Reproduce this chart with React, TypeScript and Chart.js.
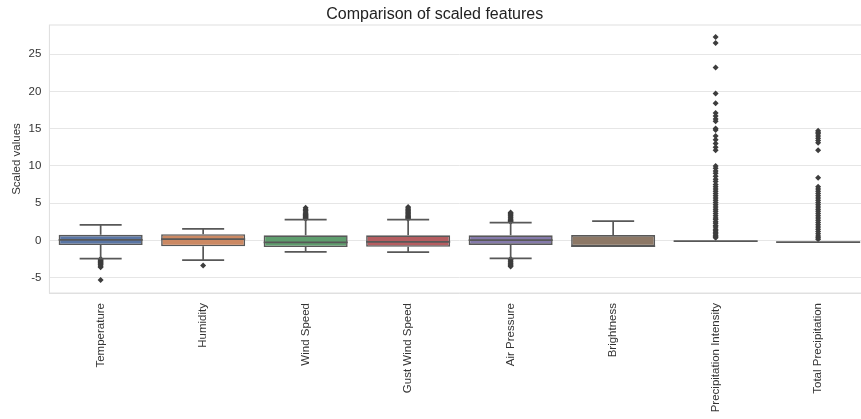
import React, { useEffect, useRef } from "react";
import { Chart, registerables } from "chart.js";

Chart.register(...registerables);

const categories = [
  "Temperature",
  "Humidity",
  "Wind Speed",
  "Gust Wind Speed",
  "Air Pressure",
  "Brightness",
  "Precipitation Intensity",
  "Total Precipitation",
];

const q1 = [-0.62, -0.78, -0.88, -0.85, -0.6, -0.8, -0.08, -0.22];
const medians = [0.07, 0.18, -0.25, -0.18, 0.05, -0.78, -0.08, -0.22];
const q3 = [0.75, 0.83, 0.68, 0.68, 0.68, 0.72, -0.08, -0.22];
const whiskerLow = [-2.45, -2.63, -1.53, -1.56, -2.4, -0.8, -0.08, -0.22];
const whiskerHigh = [2.1, 1.55, 2.8, 2.8, 2.38, 2.6, -0.08, -0.22];

const boxColors = ["#5975a4", "#cc8963", "#5f9e6e", "#b55d60", "#857aab", "#8d7866", "#5975a4", "#cc8963"];

const outliersTemperature = [-2.5, -2.6, -2.7, -2.8, -2.9, -3.0, -3.1, -3.2, -3.3, -3.45, -3.6, -5.3];
const outliersHumidity = [-3.35];
const outliersWindSpeed = [2.9, 3.0, 3.1, 3.2, 3.3, 3.4, 3.5, 3.65, 3.8, 4.0, 4.2, 4.4];
const outliersGustWindSpeed = [2.9, 3.0, 3.1, 3.2, 3.3, 3.45, 3.6, 3.75, 3.9, 4.05, 4.2, 4.35, 4.5];
const outliersAirPressure = [2.5, 2.6, 2.7, 2.85, 3.0, 3.15, 3.3, 3.45, 3.6, 3.75, -2.5, -2.6, -2.75, -2.9, -3.05, -3.2, -3.35, -3.5];
const outliersBrightness: number[] = [];
const outliersPrecipIntensity = [
  27.3, 26.5, 23.2, 19.7, 18.4, 17.1, 16.7, 16.3, 16.0, 15.0, 14.8, 14.0, 13.5, 13.0, 12.5, 12.1,
  10.0, 9.7, 9.3, 9.0, 8.6, 8.2, 7.9, 7.5, 7.2, 6.9, 6.6, 6.3, 6.0, 5.7, 5.4, 5.1, 4.8, 4.5, 4.2,
  3.9, 3.6, 3.3, 3.0, 2.8, 2.5, 2.3, 2.0, 1.8, 1.5, 1.3, 1.1, 0.9, 0.7, 0.5, 0.35,
];
const outliersTotalPrecip = [
  14.7, 14.5, 14.3, 14.0, 13.7, 13.4, 13.1, 12.1, 8.4, 7.2, 6.9, 6.6, 6.3, 6.0, 5.7, 5.4, 5.1,
  4.8, 4.5, 4.2, 3.9, 3.6, 3.3, 3.0, 2.7, 2.4, 2.1, 1.8, 1.5, 1.2, 0.9, 0.6, 0.35, 0.15,
];

const outlierLists = [
  outliersTemperature,
  outliersHumidity,
  outliersWindSpeed,
  outliersGustWindSpeed,
  outliersAirPressure,
  outliersBrightness,
  outliersPrecipIntensity,
  outliersTotalPrecip,
];

const yTicks = [-5, 0, 5, 10, 15, 20, 25];

const LINE = "#585858";
const FONT = "'Liberation Sans', Arial, sans-serif";

const boxPlugin = {
  id: "boxWhiskers",
  afterDatasetDraw(chart: any, args: any) {
    if (args.index !== 0) return;
    const ctx = chart.ctx;
    const xs = chart.scales.x;
    const ys = chart.scales.y;
    const meta = chart.getDatasetMeta(0);
    ctx.save();
    ctx.strokeStyle = LINE;
    ctx.lineWidth = 1.7;
    categories.forEach((_, i) => {
      const el = meta.data[i];
      const w = el ? el.width : 80;
      const cx = xs.getPixelForValue(i);
      const yq1 = ys.getPixelForValue(q1[i]);
      const yq3 = ys.getPixelForValue(q3[i]);
      const ylo = ys.getPixelForValue(whiskerLow[i]);
      const yhi = ys.getPixelForValue(whiskerHigh[i]);
      const ym = ys.getPixelForValue(medians[i]);
      ctx.beginPath();
      if (whiskerHigh[i] > q3[i]) {
        ctx.moveTo(cx, yq3);
        ctx.lineTo(cx, yhi);
        ctx.moveTo(cx - w / 4, yhi);
        ctx.lineTo(cx + w / 4, yhi);
      }
      if (whiskerLow[i] < q1[i]) {
        ctx.moveTo(cx, yq1);
        ctx.lineTo(cx, ylo);
        ctx.moveTo(cx - w / 4, ylo);
        ctx.lineTo(cx + w / 4, ylo);
      }
      ctx.moveTo(cx - w / 2, ym);
      ctx.lineTo(cx + w / 2, ym);
      ctx.stroke();
    });
    ctx.restore();
  },
};

export default function App() {
  const ref = useRef<HTMLCanvasElement | null>(null);
  useEffect(() => {
    if (!ref.current) return;
    const outlierData: { x: string; y: number }[] = [];
    outlierLists.forEach((list, i) => list.forEach((v) => outlierData.push({ x: categories[i], y: v })));
    const chart = new Chart(ref.current, {
      type: "bar",
      data: {
        labels: categories,
        datasets: [
          {
            type: "bar",
            data: categories.map((_, i) => [q1[i], q3[i]]) as any,
            backgroundColor: boxColors,
            borderColor: LINE,
            borderWidth: 1.6,
            borderSkipped: false,
            barPercentage: 0.82,
            categoryPercentage: 1,
          } as any,
          {
            type: "scatter",
            data: outlierData as any,
            pointStyle: "rectRot",
            pointRadius: 3,
            pointBackgroundColor: "#3d3d3d",
            pointBorderColor: "#3d3d3d",
            pointBorderWidth: 0,
          } as any,
        ],
      },
      options: {
        animation: false,
        responsive: false,
        layout: { padding: { left: 0, right: 10.6, top: 0, bottom: 0 } },
        plugins: {
          legend: { display: false },
          tooltip: { enabled: false },
          title: {
            display: true,
            text: "Comparison of scaled features",
            color: "#222222",
            font: { family: FONT, size: 16, weight: "normal", lineHeight: 1.2 },
            padding: { top: 5, bottom: 0.8 },
          },
        },
        scales: {
          x: {
            type: "category",
            offset: true,
            grid: { display: false, drawTicks: false },
            border: { display: true, color: "#e0e0e0", width: 1 },
            ticks: {
              color: "#333333",
              font: { family: FONT, size: 11.5 },
              maxRotation: 90,
              minRotation: 90,
              padding: 10,
              autoSkip: false,
            },
            afterFit: (s: any) => {
              s.height = 126;
            },
          },
          y: {
            type: "linear",
            min: -7.05,
            max: 28.9,
            grid: { color: "#e6e6e6", lineWidth: 1, drawTicks: false },
            border: { display: true, color: "#e0e0e0", width: 1 },
            afterBuildTicks: (s: any) => {
              s.ticks = yTicks.map((v) => ({ value: v }));
            },
            ticks: {
              color: "#333333",
              font: { family: FONT, size: 11.5 },
              padding: 8,
            },
            title: {
              display: true,
              text: "Scaled values",
              color: "#333333",
              font: { family: FONT, size: 11.5 },
              padding: { top: 10, bottom: 0 },
            },
            afterFit: (s: any) => {
              s.width = 49.4;
            },
          },
        },
      },
      plugins: [
        boxPlugin,
        {
          id: "frame",
          afterDraw(c: any) {
            const a = c.chartArea;
            const ctx = c.ctx;
            ctx.save();
            ctx.strokeStyle = "#e0e0e0";
            ctx.lineWidth = 1;
            ctx.strokeRect(a.left, a.top, a.right - a.left, a.bottom - a.top);
            ctx.restore();
          },
        },
      ],
    });
    return () => chart.destroy();
  }, []);
  return (
    <div
      style={{
        position: "absolute",
        left: 0,
        top: 0,
        width: 861,
        height: 419,
        overflow: "hidden",
        background: "#ffffff",
      }}
    >
      <canvas ref={ref} width={880} height={419} style={{ display: "block" }} />
    </div>
  );
}
